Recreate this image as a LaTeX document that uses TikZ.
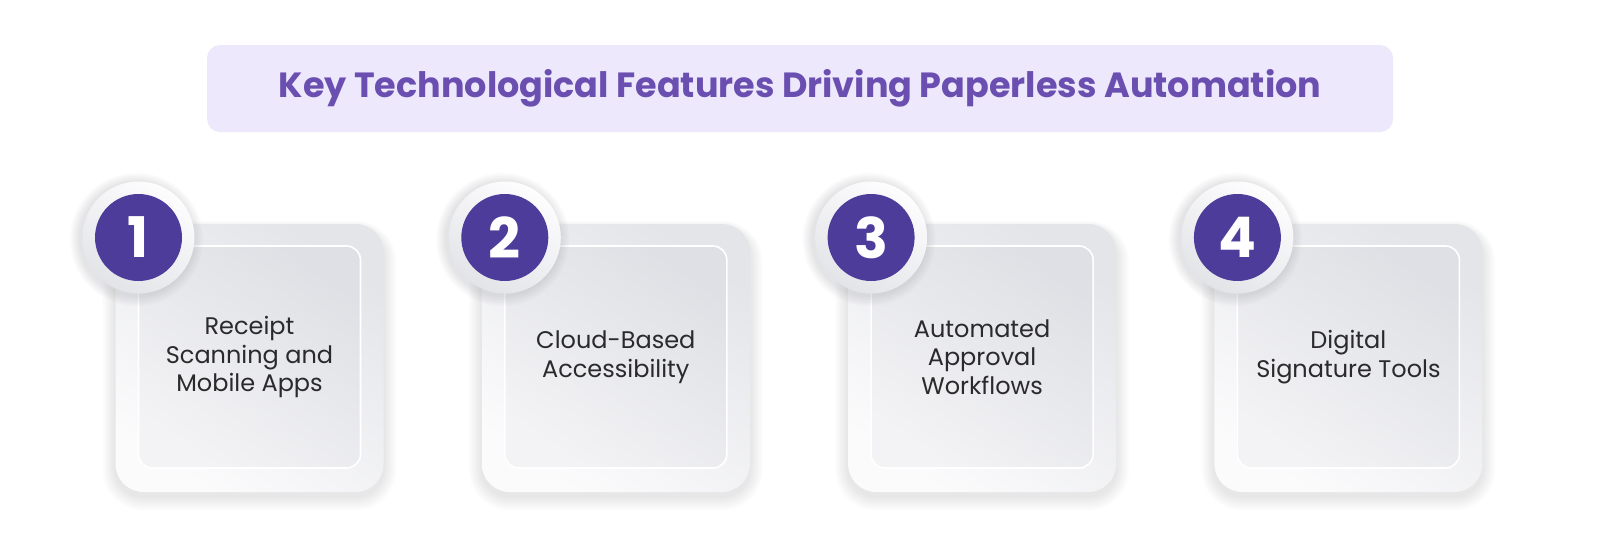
\documentclass[tikz,border=0pt]{standalone}
\usepackage{fontspec}
\setmainfont{Poppins}
\definecolor{titlebg}{HTML}{EDE8FB}
\definecolor{titlefg}{HTML}{6A4FB1}
\definecolor{numpurple}{HTML}{4E3C9B}
\definecolor{cardtxt}{HTML}{2A2A2C}
\definecolor{outerA}{HTML}{E4E5E9}
\definecolor{outerB}{HTML}{FBFBFC}
\definecolor{innerA}{HTML}{DFE0E5}
\definecolor{innerB}{HTML}{F3F3F5}
\definecolor{ringA}{HTML}{E3E4E8}
\definecolor{ringB}{HTML}{FDFDFE}
\definecolor{shadowc}{HTML}{7A7B85}
\tikzset{
  titlebox/.style={fill=titlebg, rounded corners=13pt, minimum width=1186pt, minimum height=87pt,
    text=titlefg, font=\bfseries\fontsize{35}{42}\selectfont, inner sep=0pt},
  outerbox/.style={rectangle, rounded corners=28pt, minimum width=268pt, minimum height=268pt,
    inner sep=0pt, top color=outerA, bottom color=outerB, shading angle=-35},
  innerbox/.style={rectangle, rounded corners=14pt, minimum width=222pt, minimum height=222pt,
    inner sep=0pt, top color=innerA, bottom color=innerB, shading angle=-35,
    draw=white, line width=1.6pt, align=center, text=cardtxt,
    font=\fontsize{24}{28.5}\selectfont},
  ringnode/.style={circle, minimum size=112pt, inner sep=0pt, top color=ringB, bottom color=ringA,
    shading angle=-30},
  numnode/.style={circle, minimum size=87pt, inner sep=0pt, fill=numpurple, text=white,
    font=\bfseries\fontsize{56}{56}\selectfont},
}
\begin{document}
\begin{tikzpicture}[x=1pt,y=-1pt]
\useasboundingbox (0,0) rectangle (1600,546);
\fill[white] (0,0) rectangle (1600,546);
\node[titlebox] (title) at (800,88.5) {Key Technological Features Driving Paperless Automation};
\foreach \i/\txt in {1/{Receipt\\Scanning and\\Mobile Apps},2/{Cloud-Based\\Accessibility},3/{Automated\\Approval\\Workflows},4/{Digital\\Signature Tools}}{
  \pgfmathsetmacro{\cx}{138.5+(\i-1)*366.3}
  \pgfmathsetmacro{\bx}{\cx+111}
  % card shadow
  \foreach \k in {1,...,8}{
    \fill[shadowc, opacity=0.018, rounded corners={28+1.6*\k}] ({\bx-134-1.6*\k},{224-1.0*\k+5}) rectangle ({\bx+134+1.6*\k},{492+1.8*\k+4});
  }
  \node[outerbox] (card\i) at (\bx,358) {};
  \node[innerbox] (inner\i) at (\bx,357) {\txt};
  % circle shadow
  \foreach \k in {1,...,7}{
    \fill[shadowc, opacity=0.028] ({\cx-2},239.5) circle ({56+1.5*\k});
  }
  \node[ringnode] (ring\i) at (\cx,237.5) {};
  \node[numnode] (num\i) at (\cx,237.5) {\i};
}
\end{tikzpicture}
\end{document}
